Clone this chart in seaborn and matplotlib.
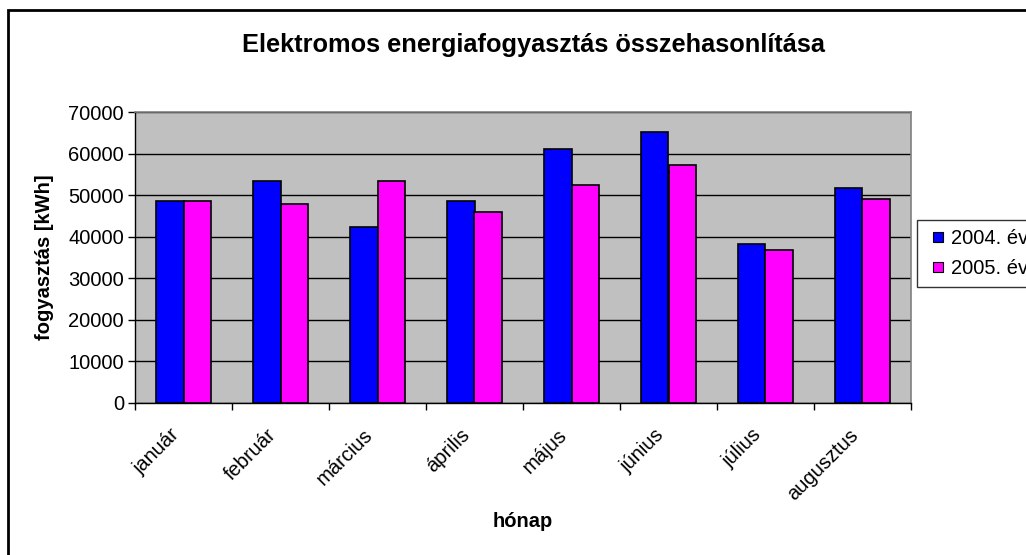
import matplotlib
matplotlib.use("Agg")
import matplotlib.pyplot as plt
import matplotlib.transforms as mtransforms
from matplotlib.lines import Line2D
import seaborn as sns
import pandas as pd
import numpy as np
from matplotlib.patches import Rectangle

months = ["január", "február", "március", "április", "május", "június", "július", "augusztus"]
series_names = ["2004. év", "2005. év"]
values_2004 = [48600, 53500, 42300, 48600, 61000, 65200, 38200, 51600]
values_2005 = [48600, 47800, 53500, 46000, 52400, 57200, 36700, 49000]
y_ticks = [0, 10000, 20000, 30000, 40000, 50000, 60000, 70000]
colors = ["#0000FF", "#FF00FF"]

df = pd.DataFrame({
    "hónap": months * 2,
    "value": values_2004 + values_2005,
    "series": [series_names[0]] * len(months) + [series_names[1]] * len(months),
})

sns.set_theme(style="white")
plt.rcParams["font.family"] = ["Liberation Sans", "DejaVu Sans"]
plt.rcParams["text.color"] = "black"
plt.rcParams["axes.labelcolor"] = "black"
plt.rcParams["xtick.color"] = "black"
plt.rcParams["ytick.color"] = "black"

FS = 14.5
W, H = 1026, 555
fig = plt.figure(figsize=(W / 100, H / 100), dpi=100)
ax = fig.add_axes([135 / W, 1 - 403 / H, (911 - 135) / W, (403 - 112) / H])
ax.set_facecolor("#C0C0C0")

sns.barplot(data=df, x="hónap", y="value", hue="series", palette=colors,
            width=0.57, edgecolor="black", linewidth=1.2, ax=ax, legend=False,
            saturation=1)

ax.set_ylim(0, 70000)
ax.set_xlim(-0.5, len(months) - 0.5)
ax.set_yticks(y_ticks)
ax.set_yticklabels([str(v) for v in y_ticks], fontsize=FS)
ax.yaxis.grid(True, color="black", linewidth=1)
ax.xaxis.grid(False)
ax.set_axisbelow(True)

ax.set_xticks(range(len(months)))
ax.set_xticklabels(months, rotation=45, ha="right", rotation_mode="anchor", fontsize=FS)
ax.tick_params(axis="x", length=0, pad=16)
shift = mtransforms.ScaledTranslation(-14 / 100, 0, fig.dpi_scale_trans)
for lbl in ax.get_xticklabels():
    lbl.set_transform(lbl.get_transform() + shift)
ax.set_xticks(np.arange(-0.5, len(months), 1.0), minor=True)
ax.tick_params(axis="x", which="minor", length=5, width=1, color="black", direction="out", bottom=True)
ax.tick_params(axis="y", length=5, width=1, color="black", direction="out", left=True, pad=3)

for s in ["left", "bottom"]:
    ax.spines[s].set_color("black")
    ax.spines[s].set_linewidth(1)
for s in ["top", "right"]:
    ax.spines[s].set_color("#808080")
    ax.spines[s].set_linewidth(1.2)

ax.set_xlabel("hónap", fontsize=FS, fontweight="bold", labelpad=6)
ax.set_ylabel("fogyasztás [kWh]", fontsize=FS, fontweight="bold", labelpad=10)

fig.text(533 / W, 1 - 45 / H, "Elektromos energiafogyasztás összehasonlítása",
         ha="center", va="center", fontsize=18.3, fontweight="bold")

handles = [Line2D([], [], linestyle="none", marker="s", markersize=6.5,
                  markerfacecolor=c, markeredgecolor="black", markeredgewidth=0.8)
           for c in colors]
leg = ax.legend(handles, series_names, loc="upper left", bbox_to_anchor=(917 / W, 1 - 220 / H),
                bbox_transform=fig.transFigure, frameon=True, fancybox=False,
                fontsize=FS, handlelength=1.2, handletextpad=0.05,
                borderpad=0.45, labelspacing=0.55, borderaxespad=0)
leg.get_frame().set_edgecolor("black")
leg.get_frame().set_linewidth(1)

fig.patches.append(Rectangle((8 / W, -0.05), 1.1, 1 - 10 / H + 0.05,
                             transform=fig.transFigure, fill=False,
                             edgecolor="black", linewidth=2))

fig.savefig("out.png", dpi=100)
